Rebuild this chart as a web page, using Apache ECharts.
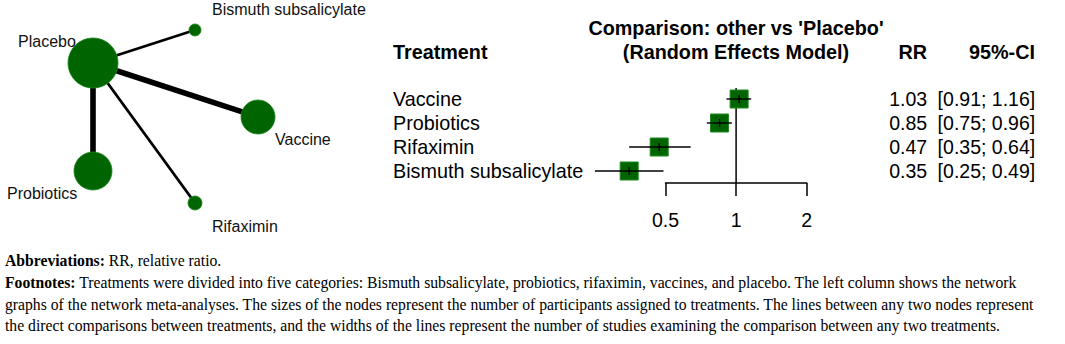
<!DOCTYPE html>
<html>
<head>
<meta charset="utf-8">
<script src="https://cdn.jsdelivr.net/npm/echarts@6/dist/echarts.min.js"></script>
<style>
  html, body { margin: 0; padding: 0; background: #fff; }
  #chart { width: 1065px; height: 344px; }
</style>
</head>
<body>
<div id="chart"></div>
<script>
// network graph
const nodeNames = ["Placebo", "Bismuth subsalicylate", "Vaccine", "Probiotics", "Rifaximin"];
const nodeX = [93, 195, 258, 93, 195];
const nodeY = [63, 30, 117, 171, 203];
const edgeTargets = ["Bismuth subsalicylate", "Vaccine", "Probiotics", "Rifaximin"];
const edgeStudies = [1, 2, 2, 1];

// forest plot
const treatments = ["Vaccine", "Probiotics", "Rifaximin", "Bismuth subsalicylate"];
const rr = [1.03, 0.85, 0.47, 0.35];
const ciLow = [0.91, 0.75, 0.35, 0.25];
const ciHigh = [1.16, 0.96, 0.64, 0.49];
const xTicks = ["0.5", "1", "2"];

const SANS = "'Liberation Sans', Arial, sans-serif";
const SERIF = "'Liberation Serif', 'Times New Roman', serif";
const GREEN = "#006400";

const nodeSize = { "Placebo": 50, "Bismuth subsalicylate": 12, "Vaccine": 34, "Probiotics": 38, "Rifaximin": 14 };
const labelOffset = {
  "Placebo": [-75, -22],
  "Bismuth subsalicylate": [17, -21],
  "Vaccine": [17, 22],
  "Probiotics": [-86, 22],
  "Rifaximin": [17, 23]
};

const chart = echarts.init(document.getElementById("chart"), null, { renderer: "svg" });

const fmt = (v) => v.toFixed(2);
const idxOf = (n) => nodeNames.indexOf(n);

const option = {
  animation: false,
  grid: [
    { left: 0, top: 0, width: 360, height: 240 },
    { left: 665.5, top: 87, width: 141.2, height: 96 }
  ],
  xAxis: [
    { gridIndex: 0, type: "value", min: 0, max: 360, show: false },
    {
      gridIndex: 1, type: "log", logBase: 2, min: 0.5, max: 2, interval: 1,
      axisLine: { show: true, onZero: false, lineStyle: { color: "#000", width: 1.5 } },
      axisTick: { show: true, length: 13, lineStyle: { color: "#000", width: 1.5 } },
      axisLabel: {
        color: "#000", fontSize: 19.5, fontFamily: SANS, margin: 27,
        formatter: (v) => xTicks[Math.round(Math.log2(v)) + 1]
      },
      splitLine: { show: false }
    }
  ],
  yAxis: [
    { gridIndex: 0, type: "value", min: 0, max: 240, inverse: true, show: false },
    {
      gridIndex: 1, type: "category", data: treatments, inverse: true,
      axisLine: { show: false }, axisTick: { show: false },
      axisLabel: { interval: 0, color: "#000", fontSize: 19.8, fontFamily: SANS, align: "left", margin: 272.5 }
    },
    {
      gridIndex: 1, type: "category", data: treatments, inverse: true, position: "right",
      axisLine: { show: false }, axisTick: { show: false },
      axisLabel: { interval: 0, color: "#000", fontSize: 19.5, fontFamily: SANS, align: "right", margin: 120.5,
        formatter: (v, i) => fmt(rr[i]) }
    },
    {
      gridIndex: 1, type: "category", data: treatments, inverse: true, position: "right",
      axisLine: { show: false }, axisTick: { show: false },
      axisLabel: { interval: 0, color: "#000", fontSize: 19.5, fontFamily: SANS, align: "right", margin: 228.5,
        formatter: (v, i) => "[" + fmt(ciLow[i]) + "; " + fmt(ciHigh[i]) + "]" }
    }
  ],
  series: [
    {
      type: "lines",
      coordinateSystem: "cartesian2d",
      xAxisIndex: 0, yAxisIndex: 0,
      z: 1,
      data: edgeTargets.map((t, i) => ({
        coords: [[nodeX[0], nodeY[0]], [nodeX[idxOf(t)], nodeY[idxOf(t)]]],
        lineStyle: { width: edgeStudies[i] * 2.8 }
      })),
      lineStyle: { color: "#000", opacity: 1, curveness: 0 },
      silent: true
    },
    {
      type: "scatter",
      xAxisIndex: 0, yAxisIndex: 0,
      z: 3,
      data: nodeNames.map((n, i) => ({
        name: n,
        value: [nodeX[i], nodeY[i]],
        symbolSize: nodeSize[n],
        label: { offset: labelOffset[n] }
      })),
      itemStyle: { color: GREEN, borderColor: "#1f8a1f", borderWidth: 0.8, opacity: 1 },
      label: {
        show: true, position: "inside", align: "left", verticalAlign: "middle",
        formatter: (p) => p.name,
        color: "#111", fontSize: 16, fontFamily: SANS
      },
      silent: true
    },
    {
      type: "custom",
      xAxisIndex: 1, yAxisIndex: 1,
      data: treatments.map((t, i) => [rr[i], ciLow[i], ciHigh[i], i]),
      encode: { x: [0, 1, 2], y: 3 },
      clip: false,
      renderItem: (params, api) => {
        const idx = params.dataIndex;
        const c = api.coord([api.value(0), idx]);
        const lo = api.coord([api.value(1), idx]);
        const hi = api.coord([api.value(2), idx]);
        const s = 18;
        const children = [
          { type: "rect", shape: { x: c[0] - s / 2, y: c[1] - s / 2, width: s, height: s },
            style: { fill: GREEN, stroke: "#1f8a1f", lineWidth: 1 } },
          { type: "line", shape: { x1: lo[0], y1: lo[1], x2: hi[0], y2: hi[1] },
            style: { stroke: "#000", lineWidth: 1.4 } },
          { type: "line", shape: { x1: c[0], y1: c[1] - 4, x2: c[0], y2: c[1] + 4 },
            style: { stroke: "#000", lineWidth: 1.4 } }
        ];
        if (idx === 0) {
          // reference line at RR = 1
          const cs = params.coordSys;
          const x1 = api.coord([1, 0])[0];
          children.unshift({ type: "line", shape: { x1: x1, y1: cs.y + 1, x2: x1, y2: cs.y + cs.height },
            style: { stroke: "#000", lineWidth: 1.5 } });
        }
        return { type: "group", children: children };
      }
    }
  ],
  graphic: [
    { type: "text", x: 393, y: 52,
      style: { text: "Treatment", font: "bold 19.8px " + SANS, fill: "#000", textVerticalAlign: "middle" } },
    { type: "text", x: 736, y: 28,
      style: { text: "Comparison: other vs 'Placebo'", font: "bold 19.8px " + SANS, fill: "#000",
        textAlign: "center", textVerticalAlign: "middle" } },
    { type: "text", x: 736, y: 52,
      style: { text: "(Random Effects Model)", font: "bold 19.8px " + SANS, fill: "#000",
        textAlign: "center", textVerticalAlign: "middle" } },
    { type: "text", x: 927, y: 52,
      style: { text: "RR", font: "bold 19.8px " + SANS, fill: "#000",
        textAlign: "right", textVerticalAlign: "middle" } },
    { type: "text", x: 1035, y: 52,
      style: { text: "95%-CI", font: "bold 19.8px " + SANS, fill: "#000",
        textAlign: "right", textVerticalAlign: "middle" } },
    { type: "text", left: 5, top: 250,
      style: {
        text: "{b|Abbreviations:} RR, relative ratio.\n" +
          "{b|Footnotes:} Treatments were divided into five categories: Bismuth subsalicylate, probiotics, rifaximin, vaccines, and placebo. The left column shows the network\n" +
          "graphs of the network meta-analyses. The sizes of the nodes represent the number of participants assigned to treatments. The lines between any two nodes represent\n" +
          "the direct comparisons between treatments, and the widths of the lines represent the number of studies examining the comparison between any two treatments.",
        font: "15.7px " + SERIF, fill: "#000", lineHeight: 21.7,
        rich: { b: { fontWeight: "bold", fontSize: 15.7, fontFamily: SERIF, lineHeight: 21.7 } }
      } }
  ]
};

chart.setOption(option);
</script>
</body>
</html>
